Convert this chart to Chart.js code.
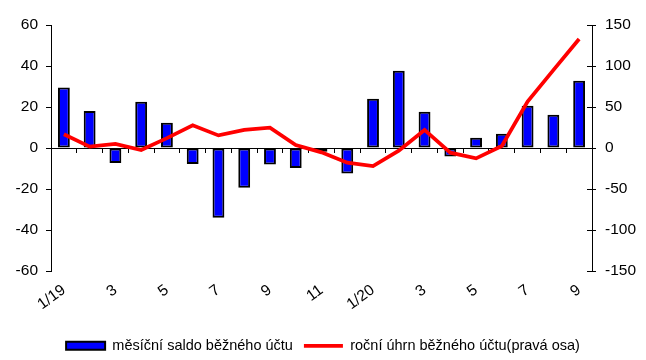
<!DOCTYPE html>
<html>
<head>
<meta charset="utf-8">
<script src="https://cdn.jsdelivr.net/npm/chart.js@4"></script>
<style>
  html, body { margin: 0; padding: 0; background: #fff; }
  #wrap { width: 646px; height: 360px; position: relative; }
</style>
</head>
<body>
<div id="wrap"><canvas id="c" width="646" height="360"></canvas></div>
<script>
const categories = ['1/19','2','3','4','5','6','7','8','9','10','11','12','1/20','2','3','4','5','6','7','8','9'];
const monthlyBalance = [29.5, 18, -7.3, 22.6, 12.3, -7.8, -34, -19.4, -8.1, -9.8, -1.8, -12.4, 24, 37.7, 17.7, -4.2, 5, 7, 20.6, 16.2, 32.8];
const annualSum = [16.7, 1.6, 4.9, -2.4, 12, 27.7, 15.4, 22, 24.8, 3.7, -5.3, -17.9, -22, -3.3, 22, -5.7, -12.6, 2.4, 56.5, 95, 133];
const leftTicks = { min: -60, max: 60, step: 20 };
const rightTicks = { min: -150, max: 150, step: 50 };
const seriesNames = ['měsíční saldo běžného účtu', 'roční úhrn běžného účtu(pravá osa)'];

const FONT = 'Liberation Sans, Arial, sans-serif';

const innerRightTicks = {
  id: 'innerRightTicks',
  afterDraw(chart) {
    const s = chart.scales.y1;
    const ctx = chart.ctx;
    ctx.save();
    ctx.strokeStyle = '#000';
    ctx.lineWidth = 1;
    s.ticks.forEach((t, i) => {
      const y = Math.round(s.getPixelForTick(i)) + 0.5;
      ctx.beginPath();
      ctx.moveTo(chart.chartArea.right - 5, y);
      ctx.lineTo(chart.chartArea.right, y);
      ctx.stroke();
    });
    ctx.restore();
  }
};

new Chart(document.getElementById('c'), {
  data: {
    labels: categories,
    datasets: [
      {
        type: 'bar',
        label: seriesNames[0],
        data: monthlyBalance,
        backgroundColor: '#0000ff',
        borderColor: '#000000',
        borderWidth: 2,
        borderSkipped: false,
        barPercentage: 0.46,
        categoryPercentage: 1,
        xAxisID: 'x',
        yAxisID: 'y',
        pointStyle: 'rect',
        order: 2
      },
      {
        type: 'line',
        label: seriesNames[1],
        data: annualSum,
        borderColor: '#ff0000',
        backgroundColor: '#ff0000',
        borderWidth: 3.75,
        pointRadius: 0,
        tension: 0,
        fill: false,
        xAxisID: 'x',
        yAxisID: 'y1',
        pointStyle: 'line',
        order: 1
      }
    ]
  },
  options: {
    responsive: false,
    animation: false,
    devicePixelRatio: 1,
    layout: { padding: { top: 25, bottom: -3, left: 0, right: 0 } },
    plugins: {
      legend: {
        position: 'bottom',
        labels: {
          usePointStyle: true,
          pointStyleWidth: 39,
          boxHeight: 8,
          padding: 11,
          color: '#000',
          font: { family: FONT, size: 14.5 },
          sort: (a, b) => a.datasetIndex - b.datasetIndex
        }
      },
      tooltip: { enabled: false }
    },
    scales: {
      x: {
        type: 'category',
        position: 'bottom',
        offset: true,
        grid: { display: false, drawTicks: false },
        border: { display: false },
        ticks: {
          autoSkip: false,
          minRotation: 36,
          maxRotation: 36,
          padding: 10,
          color: '#000',
          font: { family: FONT, size: 15.5 },
          callback: function(v, i) { return i % 2 === 0 ? categories[i] : ''; }
        },
        afterFit(s) { s.height = 56.5; }
      },
      x0: {
        type: 'category',
        position: { y: 0 },
        offset: true,
        grid: { display: true, drawOnChartArea: false, drawTicks: true, tickLength: 4, color: '#000', offset: true },
        border: { display: true, color: '#000', width: 1 },
        ticks: { display: false }
      },
      y: {
        type: 'linear',
        position: 'left',
        min: leftTicks.min,
        max: leftTicks.max,
        ticks: { stepSize: leftTicks.step, padding: 8, color: '#000', font: { family: FONT, size: 15.5 } },
        grid: { display: true, drawOnChartArea: false, drawTicks: true, tickLength: 5, color: '#000' },
        border: { display: true, color: '#000', width: 1 },
        afterFit(s) { s.width = 51; }
      },
      y1: {
        type: 'linear',
        position: 'right',
        min: rightTicks.min,
        max: rightTicks.max,
        ticks: { stepSize: rightTicks.step, padding: 9, color: '#000', font: { family: FONT, size: 15.5 } },
        grid: { display: true, drawOnChartArea: false, drawTicks: true, tickLength: 4, color: '#000' },
        border: { display: true, color: '#000', width: 1 },
        afterFit(s) { s.width = 54; }
      }
    }
  },
  plugins: [innerRightTicks]
});
</script>
</body>
</html>
